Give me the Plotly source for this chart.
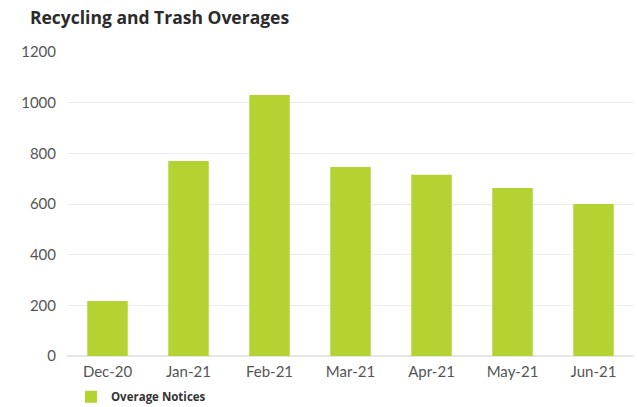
import plotly.graph_objects as go

months = ["Dec-20", "Jan-21", "Feb-21", "Mar-21", "Apr-21", "May-21", "Jun-21"]
notices = [217, 770, 1030, 746, 715, 663, 600]
y_ticks = [0, 200, 400, 600, 800, 1000, 1200]

fig = go.Figure()
fig.add_trace(go.Bar(
    x=months, y=notices, name="<b>Overage Notices</b>",
    marker=dict(color="#b4d332", line=dict(width=0)),
    width=0.5,
))

fig.update_layout(
    width=637, height=407,
    margin=dict(l=67, r=3, t=52, b=51, autoexpand=False),
    paper_bgcolor="white", plot_bgcolor="white",
    title=dict(text="<b>Recycling and Trash Overages</b>", x=0.047, xanchor="left",
               y=0.955, yanchor="middle",
               font=dict(family="Open Sans, sans-serif", size=17.5, color="#2b2b2b")),
    showlegend=True,
    legend=dict(orientation="h", x=0.007, y=0.025, yref="container",
                xanchor="left", yanchor="middle",
                font=dict(family="Open Sans, sans-serif", size=11.5, color="#333"),
                itemsizing="constant"),
    font=dict(family="Lato, Open Sans, sans-serif", size=15, color="#555"),
)

fig.update_yaxes(range=[0, 1200], tickvals=y_ticks, showgrid=True, gridcolor="#ececec",
                 gridwidth=1, zeroline=True, zerolinecolor="#e6e6e6", showline=False,
                 ticks="", ticklabelstandoff=10,
                 tickfont=dict(size=15, color="#555"))
fig.update_xaxes(showline=False, ticks="", tickfont=dict(size=15, color="#555"),
                 ticklabelstandoff=5)

fig.write_html("out.html")
